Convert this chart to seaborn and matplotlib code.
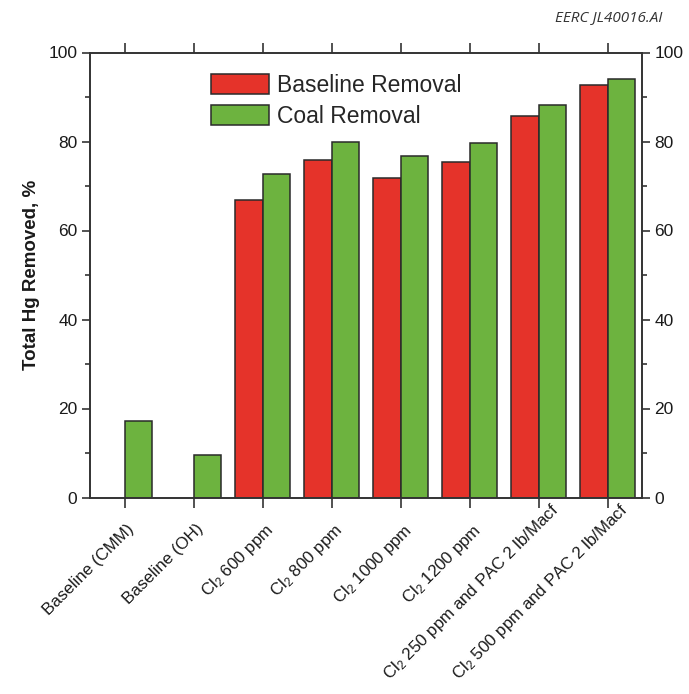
import matplotlib
matplotlib.use("Agg")
import matplotlib.pyplot as plt
from matplotlib.ticker import MultipleLocator
from matplotlib.transforms import ScaledTranslation
import seaborn as sns
import pandas as pd

# Mercury removal by test condition
conditions = [
    "Baseline (CMM)",
    "Baseline (OH)",
    "Cl$_2$ 600 ppm",
    "Cl$_2$ 800 ppm",
    "Cl$_2$ 1000 ppm",
    "Cl$_2$ 1200 ppm",
    "Cl$_2$ 250 ppm and PAC 2 lb/Macf",
    "Cl$_2$ 500 ppm and PAC 2 lb/Macf",
]
baseline_removal = [None, None, 66.9, 75.8, 71.9, 75.4, 85.7, 92.7]
coal_removal = [17.3, 9.6, 72.7, 80.0, 76.8, 79.6, 88.1, 94.0]
series_names = ["Baseline Removal", "Coal Removal"]
series_colors = ["#E5332A", "#6DB33F"]

rows = []
for cond, b, c in zip(conditions, baseline_removal, coal_removal):
    if b is not None:
        rows.append({"condition": cond, "series": series_names[0], "removal": b})
    rows.append({"condition": cond, "series": series_names[1], "removal": c})
df = pd.DataFrame(rows)

sns.set_style("ticks")
plt.rcParams["font.family"] = ["Liberation Sans", "DejaVu Sans"]
plt.rcParams["mathtext.fontset"] = "custom"
plt.rcParams["mathtext.rm"] = "Liberation Sans"
plt.rcParams["mathtext.it"] = "Liberation Sans:italic"
plt.rcParams["mathtext.bf"] = "Liberation Sans:bold"

fig = plt.figure(figsize=(6.89, 6.94), dpi=100)
ax = fig.add_axes([90 / 689, 1 - 497.5 / 694, 552 / 689, 445 / 694])

sns.barplot(
    data=df, x="condition", y="removal", hue="series",
    order=conditions, hue_order=series_names, palette=series_colors,
    width=0.8, gap=0, edgecolor="#2a2a2a", linewidth=1.1,
    saturation=1, errorbar=None, ax=ax,
)

ax.set_xlim(-0.5, len(conditions) - 0.5)
ax.set_ylim(0, 100)
ax.yaxis.set_major_locator(MultipleLocator(20))
ax.yaxis.set_minor_locator(MultipleLocator(10))

spine_color = "#333333"
for s in ax.spines.values():
    s.set_visible(True)
    s.set_color(spine_color)
    s.set_linewidth(1.4)

ax.tick_params(axis="y", which="major", direction="out", length=6, width=1.2,
               colors=spine_color, left=True, right=True,
               labelleft=True, labelright=True, labelsize=12.5, pad=3)
ax.tick_params(axis="y", which="minor", direction="out", length=3.5, width=1.2,
               colors=spine_color, left=True, right=True)
ax.tick_params(axis="x", which="major", direction="out", length=7.5, width=1.2,
               colors=spine_color, bottom=True, top=True,
               labelbottom=True, labeltop=False, labelsize=12.2, pad=9.5)
for lbl in ax.get_yticklabels(which="both"):
    lbl.set_color("#1a1a1a")

ax.set_xticks(range(len(conditions)))
ax.set_xticklabels(conditions, rotation=45, ha="right", va="top",
                   rotation_mode="anchor", color="#1a1a1a")

# nudge labels slightly right; the two long ones sit higher along their slant
base_shift = ScaledTranslation(2 / 100, 0, fig.dpi_scale_trans)
long_shift = ScaledTranslation(9 / 100, 21 / 100, fig.dpi_scale_trans)
for i, lbl in enumerate(ax.get_xticklabels()):
    t = lbl.get_transform() + base_shift
    if i >= 6:
        t = t + long_shift
    lbl.set_transform(t)

ax.set_xlabel("")
ax.set_ylabel("Total Hg Removed, %", fontsize=13.5, fontweight="bold",
              color="#1a1a1a", labelpad=6)

handles, labels = ax.get_legend_handles_labels()
ax.legend(handles, labels, loc="upper left", bbox_to_anchor=(0.219, 0.952),
          frameon=False, fontsize=16.5, handlelength=2.55, handleheight=0.95,
          handletextpad=0.35, labelspacing=0.36, borderpad=0, borderaxespad=0)

fig.text(0.961, 0.986, "EERC JL40016.AI", ha="right", va="top",
         fontsize=11, style="italic", color="#333333",
         family=["Open Sans", "DejaVu Sans"])

fig.savefig("out.png", dpi=100, facecolor="white")
